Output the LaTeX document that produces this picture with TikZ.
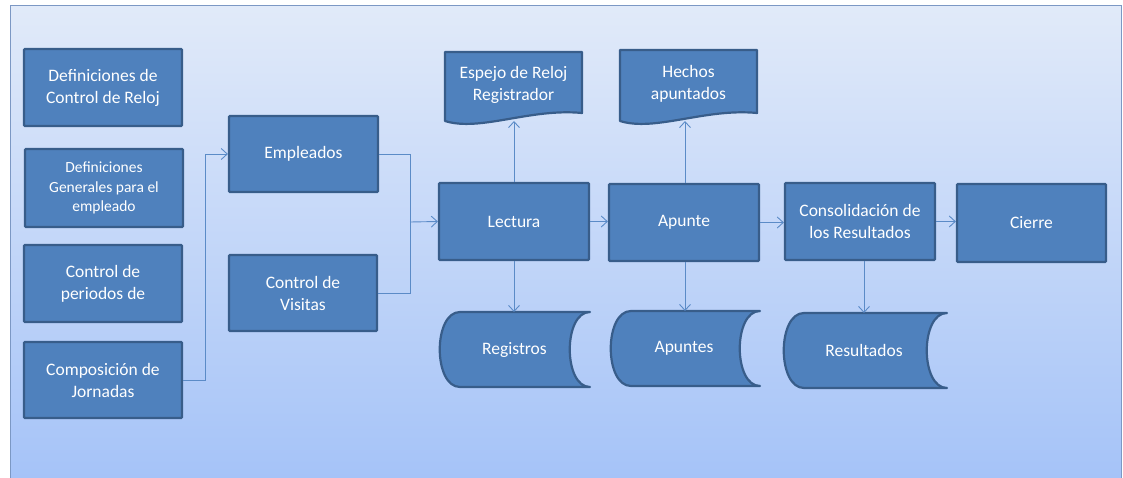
\documentclass[tikz,border=0pt]{standalone}
\usepackage{fontspec}
\setmainfont{Carlito}
\usetikzlibrary{arrows.meta}
\definecolor{boxfill}{HTML}{4F81BD}
\definecolor{boxline}{HTML}{385D8A}
\definecolor{linkc}{HTML}{5B8BC7}
\definecolor{bgtop}{HTML}{E1EAF9}
\definecolor{bgbot}{HTML}{A5C3F8}
\definecolor{panelline}{HTML}{7C98C4}
\tikzset{
  procbox/.style={draw=boxline, fill=boxfill, line width=2.2pt, text=white,
    inner sep=0pt, rounded corners=1pt, align=center,
    font=\fontsize{17.5}{22}\selectfont},
  smalltext/.style={font=\fontsize{15.5}{19.5}\selectfont},
  shapefill/.style={draw=boxline, fill=boxfill, line width=2.2pt, line join=round},
  label/.style={text=white, align=center, inner sep=0pt, font=\fontsize{17.5}{22}\selectfont},
  link/.style={draw=linkc, line width=0.9pt},
  arrowlink/.style={link, -{Straight Barb[length=6pt,width=11pt]}}
}
\begin{document}
\begin{tikzpicture}[x=1pt,y=-1pt]
\useasboundingbox (0,0) rectangle (1123,478);
\fill[white] (0,0) rectangle (1123,478);
\shade[top color=bgtop, bottom color=bgbot] (10,6) rectangle (1121,480);
\draw[panelline, line width=1pt] (10,480) -- (10,6) -- (1121,6) -- (1121,480);

% left column
\node[procbox, minimum width=158pt, minimum height=77pt] (d1) at (103,87.5) {Definiciones de\\Control de Reloj};
\node[procbox, smalltext, minimum width=158pt, minimum height=78pt] (d2) at (104,188) {Definiciones\\Generales para el\\empleado};
\node[procbox, minimum width=158pt, minimum height=77pt] (d3) at (103,283.5) {Control de\\periodos de};
\node[procbox, minimum width=158pt, minimum height=76pt] (d4) at (103,380) {Composición de\\Jornadas};

\node[procbox, minimum width=149pt, minimum height=76pt] (emp) at (303.5,154) {Empleados};
\node[procbox, minimum width=148pt, minimum height=76pt] (vis) at (303,293) {Control de\\Visitas};

\node[procbox, minimum width=150pt, minimum height=77pt] (lec) at (514,221.5) {Lectura};
\node[procbox, minimum width=150pt, minimum height=77pt] (apu) at (684,222.5) {Apunte};
\node[procbox, minimum width=150pt, minimum height=77pt] (con) at (860,221.5) {Consolidación de\\los Resultados};
\node[procbox, minimum width=149pt, minimum height=78pt] (cie) at (1031.5,223) {Cierre};

% documents
\draw[shapefill] (445,52) -- (582,52) -- (582,113) .. controls (530,108) and (480,132) .. (445,121) -- cycle;
\node[label] (esp) at (513.5,85) {Espejo de Reloj\\Registrador};
\coordinate (espb) at (514,121);
\draw[shapefill] (620,50) -- (757,50) -- (757,113) .. controls (705,108) and (655,132) .. (620,121) -- cycle;
\node[label] (hec) at (688.5,84) {Hechos\\apuntados};
\coordinate (hecb) at (685,121);

% storages
\draw[shapefill] (460,312) -- (590,312) .. controls (563,312) and (563,387) .. (590,387) -- (460,387) .. controls (433,387) and (433,312) .. (460,312) -- cycle;
\node[label] (reg) at (514.5,349.5) {Registros};
\coordinate (regt) at (514,312);
\draw[shapefill] (631,311) -- (760,311) .. controls (733,311) and (733,386) .. (760,386) -- (631,386) .. controls (604,386) and (604,311) .. (631,311) -- cycle;
\node[label] (apt) at (684,348.5) {Apuntes};
\coordinate (aptt) at (685,311);
\draw[shapefill] (804,313) -- (947,313) .. controls (920,313) and (920,388) .. (947,388) -- (804,388) .. controls (777,388) and (777,313) .. (804,313) -- cycle;
\node[label] (res) at (864,350.5) {Resultados};
\coordinate (rest) at (864,313);

% connectors
\coordinate (j1) at (205,154);
\draw[link] (d4.east) -| (j1);
\draw[arrowlink] (j1) -- (emp.west);
\coordinate (j2) at (410,222);
\draw[link] (emp.east) -| (j2);
\draw[link] (vis.east) -| (j2);
\draw[arrowlink] (j2) -- (lec.west);
\draw[arrowlink] (lec.east) -- (lec.east -| apu.west);
\draw[arrowlink] (apu.east) -- (apu.east -| con.west);
\draw[arrowlink] (con.east) -- (con.east -| cie.west);
\draw[arrowlink] (lec.north) -- (espb);
\draw[arrowlink] (apu.north -| hecb) -- (hecb);
\draw[arrowlink] (lec.south) -- (regt);
\draw[arrowlink] (apu.south -| aptt) -- (aptt);
\draw[arrowlink] (con.south -| rest) -- (rest);
\end{tikzpicture}
\end{document}
